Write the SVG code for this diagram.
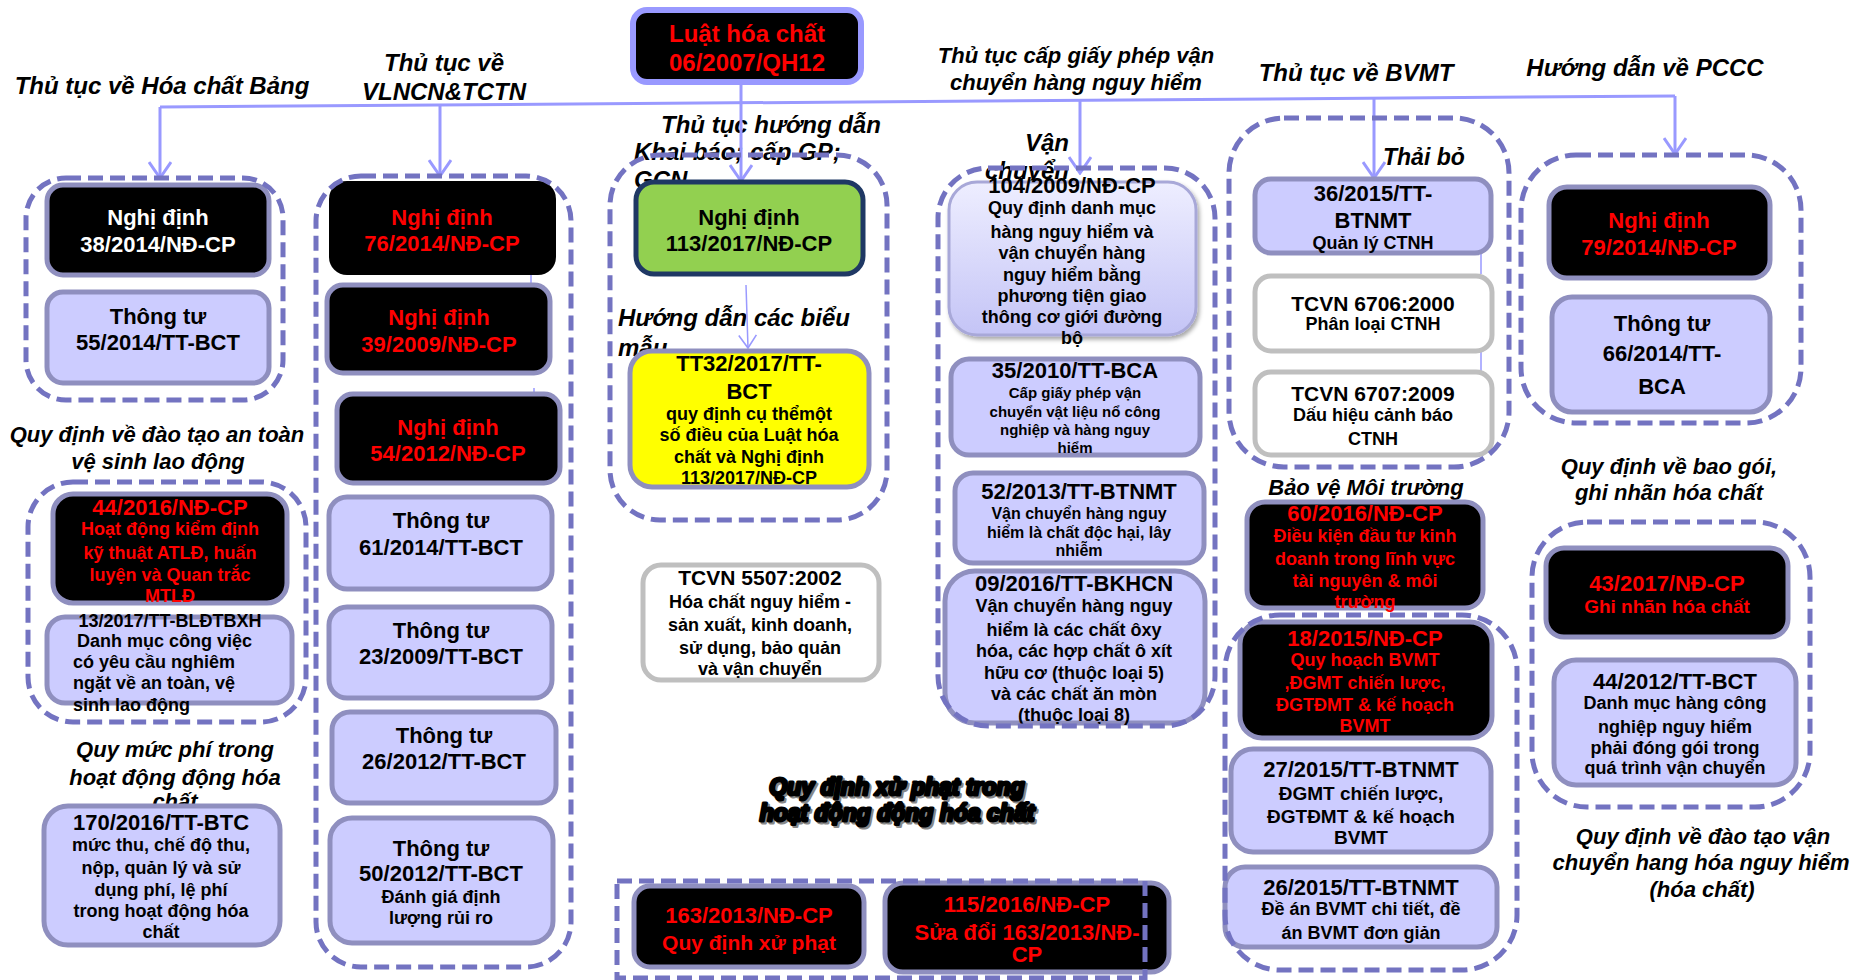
<svg xmlns="http://www.w3.org/2000/svg" width="1854" height="980" viewBox="0 0 1854 980">
<defs>
<style>
text{font-family:"Liberation Sans",Arial,sans-serif;font-weight:bold;text-anchor:middle}
.lab{font-style:italic;fill:#000}
.lab24{font-size:24px}
.lab23{font-size:23px}
.lab22{font-size:22px}
.s{text-anchor:start}
.t22{font-size:22px}
.t18{font-size:18px}
.t16{font-size:16px}
.t15{font-size:15px}
.red{fill:#FF0000}
.wt{fill:#FFFFFF}
.bk{fill:#000000}
.blk{fill:#000;stroke:#8F8FBF;stroke-width:5}
.lav{fill:#CCCCFF;stroke:#8F8FBF;stroke-width:5}
.wht{fill:#FFFFFF;stroke:#BFBFBF;stroke-width:5}
.cont{fill:none;stroke:#7373C1;stroke-width:5;stroke-dasharray:15 7}
.conn{fill:none;stroke:#9999FF;stroke-width:3}
.thin{fill:none;stroke:#9999FF;stroke-width:1.5}
.xp{font-size:23px;font-style:italic;fill:#000;stroke:#000;stroke-width:3;stroke-linejoin:round;paint-order:stroke}
.xps{font-size:23px;font-style:italic;fill:#888;stroke:#888;stroke-width:3;stroke-linejoin:round;paint-order:stroke}
</style>
<marker id="chev" viewBox="0 0 20 24" refX="18" refY="12" markerWidth="20" markerHeight="24" markerUnits="userSpaceOnUse" orient="auto">
<path d="M2,1 L18,12 L2,23" fill="none" stroke="#9999FF" stroke-width="3"/>
</marker>
<marker id="chevT" viewBox="0 0 20 24" refX="18" refY="12" markerWidth="16" markerHeight="20" markerUnits="userSpaceOnUse" orient="auto">
<path d="M2,1 L18,12 L2,23" fill="none" stroke="#9999FF" stroke-width="2"/>
</marker>
<linearGradient id="lavg" x1="0" y1="0" x2="0" y2="1">
<stop offset="0" stop-color="#EEEEFF"/>
<stop offset="1" stop-color="#C4C4F6"/>
</linearGradient>
<filter id="sh" x="-10%" y="-10%" width="125%" height="125%">
<feDropShadow dx="2" dy="3" stdDeviation="2" flood-color="#000" flood-opacity="0.35"/>
</filter>
</defs>
<rect width="1854" height="980" fill="#FFFFFF"/>

<g id="labels">
<text class="lab lab24" x="162" y="94">Thủ tục về Hóa chất Bảng</text>
<text class="lab lab24" x="444" y="71">Thủ tục về</text>
<text class="lab lab24" x="444" y="100">VLNCN&amp;TCTN</text>
<text class="lab lab22" x="1076" y="63">Thủ tục cấp giấy phép vận</text>
<text class="lab lab22" x="1076" y="90">chuyển hàng nguy hiểm</text>
<text class="lab lab24" x="1356" y="81">Thủ tục về BVMT</text>
<text class="lab lab24" x="1645" y="76">Hướng dẫn về PCCC</text>
<text class="lab lab24 s" x="661" y="133">Thủ tục hướng dẫn</text>
<text class="lab lab24 s" x="634" y="160">Khai báo; cấp GP;</text>
<text class="lab lab24 s" x="634" y="188">GCN</text>
<text class="lab lab24 s" x="1025" y="151">Vận</text>
<text class="lab lab24 s" x="985" y="179">chuyển</text>
<text class="lab lab23 s" x="1383" y="165">Thải bỏ</text>
<text class="lab lab24 s" x="618" y="326">Hướng dẫn các biểu</text>
<text class="lab lab24 s" x="618" y="356">mẫu</text>
<text class="lab lab22" x="157" y="442">Quy định về đào tạo an toàn</text>
<text class="lab lab22" x="158" y="469">vệ sinh lao động</text>
<text class="lab lab22" x="175" y="757">Quy mức phí trong</text>
<text class="lab lab22" x="175" y="785">hoạt động động hóa</text>
<text class="lab lab22" x="175" y="809">chất</text>
<text class="lab lab22" x="1366" y="495">Bảo vệ Môi trường</text>
<text class="lab lab22" x="1669" y="474">Quy định về bao gói,</text>
<text class="lab lab22" x="1669" y="500">ghi nhãn hóa chất</text>
<text class="lab lab22" x="1703" y="844">Quy định về đào tạo vận</text>
<text class="lab lab22" x="1701" y="870">chuyển hang hóa nguy hiểm</text>
<text class="lab lab22" x="1702" y="897">(hóa chất)</text>
<text class="xps" x="899" y="797">Quy định xử phạt trong</text>
<text class="xp" x="897" y="795">Quy định xử phạt trong</text>
<text class="xps" x="899" y="823">hoạt động động hóa chất</text>
<text class="xp" x="897" y="821">hoạt động động hóa chất</text>
</g>

<g id="connectors">
<polyline class="conn" points="160,107 1675,96"/>
<line class="conn" x1="160" y1="107" x2="160" y2="178" marker-end="url(#chev)"/>
<line class="conn" x1="440" y1="105" x2="440" y2="176" marker-end="url(#chev)"/>
<line class="conn" x1="741" y1="83" x2="741" y2="181" marker-end="url(#chev)"/>
<line class="conn" x1="1080" y1="100" x2="1080" y2="173" marker-end="url(#chev)"/>
<line class="conn" x1="1374" y1="98" x2="1374" y2="178" marker-end="url(#chev)"/>
<line class="conn" x1="1675" y1="96" x2="1675" y2="154" marker-end="url(#chev)"/>
<line class="thin" x1="746" y1="285" x2="748" y2="348" marker-end="url(#chevT)"/>
<line class="thin" x1="531" y1="272" x2="531" y2="284"/>
<line class="thin" x1="534" y1="388" x2="534" y2="395"/>
<line class="thin" x1="1481" y1="252" x2="1481" y2="274"/>
<line class="thin" x1="1481" y1="350" x2="1481" y2="372"/>
</g>

<g id="root">
<rect x="633" y="10" width="228" height="72" rx="14" fill="#000" stroke="#9999FF" stroke-width="6"/>
<text class="red" x="747" y="42" style="font-size:24px">Luật hóa chất</text>
<text class="red" x="747" y="71" style="font-size:24px">06/2007/QH12</text>
</g>

<g id="n38">
<rect class="blk" x="47" y="185" width="222" height="90" rx="16"/>
<text class="wt t22" x="158" y="225">Nghị định</text>
<text class="wt t22" x="158" y="252">38/2014/NĐ-CP</text>
</g>
<g id="n55">
<rect class="lav" x="47" y="292" width="222" height="91" rx="16"/>
<text class="bk t22" x="158" y="324">Thông tư</text>
<text class="bk t22" x="158" y="350">55/2014/TT-BCT</text>
</g>

<g id="n76">
<rect x="329" y="181" width="227" height="94" rx="18" fill="#000"/>
<text class="red t22" x="442" y="225">Nghị định</text>
<text class="red t22" x="442" y="251">76/2014/NĐ-CP</text>
</g>
<g id="n39">
<rect class="blk" x="327" y="285" width="223" height="88" rx="16"/>
<text class="red t22" x="439" y="325">Nghị định</text>
<text class="red t22" x="439" y="352">39/2009/NĐ-CP</text>
</g>
<g id="n54">
<rect class="blk" x="337" y="394" width="223" height="89" rx="16"/>
<text class="red t22" x="448" y="435">Nghị định</text>
<text class="red t22" x="448" y="461">54/2012/NĐ-CP</text>
</g>
<g id="n61">
<rect class="lav" x="329" y="497" width="223" height="92" rx="18"/>
<text class="bk t22" x="441" y="528">Thông tư</text>
<text class="bk t22" x="441" y="555">61/2014/TT-BCT</text>
</g>
<g id="n23">
<rect class="lav" x="329" y="607" width="223" height="91" rx="18"/>
<text class="bk t22" x="441" y="638">Thông tư</text>
<text class="bk t22" x="441" y="664">23/2009/TT-BCT</text>
</g>
<g id="n26">
<rect class="lav" x="332" y="712" width="224" height="91" rx="18"/>
<text class="bk t22" x="444" y="743">Thông tư</text>
<text class="bk t22" x="444" y="769">26/2012/TT-BCT</text>
</g>
<g id="n50">
<rect class="lav" x="330" y="818" width="223" height="125" rx="22"/>
<text class="bk t22" x="441" y="856">Thông tư</text>
<text class="bk t22" x="441" y="881">50/2012/TT-BCT</text>
<text class="bk t18" x="441" y="903">Đánh giá định</text>
<text class="bk t18" x="441" y="924">lượng rủi ro</text>
</g>

<g id="n113">
<rect x="636" y="182" width="227" height="92" rx="18" fill="#92D050" stroke="#1F3864" stroke-width="5"/>
<text class="bk t22" x="749" y="225">Nghị định</text>
<text class="bk t22" x="749" y="251">113/2017/NĐ-CP</text>
</g>
<g id="nTT32">
<rect x="630" y="351" width="239" height="136" rx="22" fill="#FFFF00" stroke="#8F8FBF" stroke-width="5"/>
<text class="bk t22" x="749" y="371">TT32/2017/TT-</text>
<text class="bk t22" x="749" y="399">BCT</text>
<text class="bk t18" x="749" y="420">quy định cụ thểmột</text>
<text class="bk t18" x="749" y="441">số điều của Luật hóa</text>
<text class="bk t18" x="749" y="463">chất và Nghị định</text>
<text class="bk t18" x="749" y="484">113/2017/NĐ-CP</text>
</g>
<g id="n5507">
<rect class="wht" x="643" y="565" width="236" height="115" rx="18"/>
<text class="bk" x="760" y="585" style="font-size:21px">TCVN 5507:2002</text>
<text class="bk t18" x="760" y="608">Hóa chất nguy hiểm -</text>
<text class="bk t18" x="760" y="631">sản xuất, kinh doanh,</text>
<text class="bk t18" x="760" y="654">sử dụng, bảo quản</text>
<text class="bk t18" x="760" y="675">và vận chuyển</text>
</g>

<g id="n104">
<rect x="949" y="182" width="247" height="153" rx="28" fill="url(#lavg)" stroke="#A8A8D8" stroke-width="3" filter="url(#sh)"/>
<text class="bk t22" x="1072" y="193">104/2009/NĐ-CP</text>
<text class="bk t18" x="1072" y="214">Quy định danh mục</text>
<text class="bk t18" x="1072" y="238">hàng nguy hiểm và</text>
<text class="bk t18" x="1072" y="259">vận chuyển hàng</text>
<text class="bk t18" x="1072" y="281">nguy hiểm bằng</text>
<text class="bk t18" x="1072" y="302">phương tiện giao</text>
<text class="bk t18" x="1072" y="323">thông cơ giới đường</text>
<text class="bk t18" x="1072" y="344">bộ</text>
</g>
<g id="n35">
<rect class="lav" x="951" y="359" width="249" height="96" rx="18"/>
<text class="bk t22" x="1075" y="378">35/2010/TT-BCA</text>
<text class="bk t15" x="1075" y="398">Cấp giấy phép vận</text>
<text class="bk t15" x="1075" y="417">chuyển vật liệu nổ công</text>
<text class="bk t15" x="1075" y="435">nghiệp và hàng nguy</text>
<text class="bk t15" x="1075" y="453">hiểm</text>
</g>
<g id="n52">
<rect class="lav" x="955" y="473" width="249" height="90" rx="18"/>
<text class="bk t22" x="1079" y="499">52/2013/TT-BTNMT</text>
<text class="bk t16" x="1079" y="519">Vận chuyển hàng nguy</text>
<text class="bk t16" x="1079" y="538">hiểm là chất độc hại, lây</text>
<text class="bk t16" x="1079" y="556">nhiễm</text>
</g>
<g id="n09">
<rect class="lav" x="945" y="571" width="260" height="152" rx="30"/>
<text class="bk t22" x="1074" y="591">09/2016/TT-BKHCN</text>
<text class="bk t18" x="1074" y="612">Vận chuyển hàng nguy</text>
<text class="bk t18" x="1074" y="636">hiểm là các chất ôxy</text>
<text class="bk t18" x="1074" y="657">hóa, các hợp chất ô xít</text>
<text class="bk t18" x="1074" y="679">hữu cơ (thuộc loại 5)</text>
<text class="bk t18" x="1074" y="700">và các chất ăn mòn</text>
<text class="bk t18" x="1074" y="721">(thuộc loại 8)</text>
</g>

<g id="n36">
<rect class="lav" x="1255" y="179" width="236" height="74" rx="16"/>
<text class="bk t22" x="1373" y="201">36/2015/TT-</text>
<text class="bk t22" x="1373" y="228">BTNMT</text>
<text class="bk t18" x="1373" y="249">Quản lý CTNH</text>
</g>
<g id="n6706">
<rect class="wht" x="1255" y="276" width="237" height="75" rx="16"/>
<text class="bk" x="1373" y="311" style="font-size:21px">TCVN 6706:2000</text>
<text class="bk t18" x="1373" y="330">Phân loại CTNH</text>
</g>
<g id="n6707">
<rect class="wht" x="1255" y="372" width="237" height="83" rx="16"/>
<text class="bk" x="1373" y="401" style="font-size:21px">TCVN 6707:2009</text>
<text class="bk t18" x="1373" y="421">Dấu hiệu cảnh báo</text>
<text class="bk t18" x="1373" y="445">CTNH</text>
</g>
<g id="n60">
<rect class="blk" x="1247" y="502" width="236" height="106" rx="18"/>
<text class="red t22" x="1365" y="521">60/2016/NĐ-CP</text>
<text class="red t18" x="1365" y="542">Điều kiện đầu tư kinh</text>
<text class="red t18" x="1365" y="565">doanh trong lĩnh vực</text>
<text class="red t18" x="1365" y="587">tài nguyên &amp; môi</text>
<text class="red t18" x="1365" y="608">trường</text>
</g>
<g id="n18">
<rect class="blk" x="1240" y="622" width="252" height="116" rx="22"/>
<text class="red t22" x="1365" y="646">18/2015/NĐ-CP</text>
<text class="red t18" x="1365" y="666">Quy hoạch BVMT</text>
<text class="red t18" x="1365" y="689">,ĐGMT chiến lược,</text>
<text class="red t18" x="1365" y="711">ĐGTĐMT &amp; kế hoạch</text>
<text class="red t18" x="1365" y="732">BVMT</text>
</g>
<g id="n27">
<rect class="lav" x="1231" y="749" width="260" height="103" rx="22"/>
<text class="bk t22" x="1361" y="777">27/2015/TT-BTNMT</text>
<text class="bk" x="1361" y="800" style="font-size:19px">ĐGMT chiến lược,</text>
<text class="bk" x="1361" y="823" style="font-size:19px">ĐGTĐMT &amp; kế hoạch</text>
<text class="bk" x="1361" y="844" style="font-size:19px">BVMT</text>
</g>
<g id="n26b">
<rect class="lav" x="1225" y="867" width="272" height="80" rx="20"/>
<text class="bk t22" x="1361" y="895">26/2015/TT-BTNMT</text>
<text class="bk t18" x="1361" y="915">Đề án BVMT chi tiết, đề</text>
<text class="bk t18" x="1361" y="939">án BVMT đơn giản</text>
</g>

<g id="n79">
<rect class="blk" x="1549" y="187" width="221" height="91" rx="18"/>
<text class="red t22" x="1659" y="228">Nghị định</text>
<text class="red t22" x="1659" y="255">79/2014/NĐ-CP</text>
</g>
<g id="n66">
<rect class="lav" x="1552" y="297" width="218" height="115" rx="20"/>
<text class="bk t22" x="1662" y="331">Thông tư</text>
<text class="bk t22" x="1662" y="361">66/2014/TT-</text>
<text class="bk t22" x="1662" y="394">BCA</text>
</g>
<g id="n43">
<rect class="blk" x="1546" y="548" width="242" height="89" rx="18"/>
<text class="red t22" x="1667" y="591">43/2017/NĐ-CP</text>
<text class="red" x="1667" y="613" style="font-size:19px">Ghi nhãn hóa chất</text>
</g>
<g id="n44b">
<rect class="lav" x="1554" y="660" width="242" height="125" rx="22"/>
<text class="bk t22" x="1675" y="689">44/2012/TT-BCT</text>
<text class="bk t18" x="1675" y="709">Danh mục hàng công</text>
<text class="bk t18" x="1675" y="733">nghiệp nguy hiểm</text>
<text class="bk t18" x="1675" y="754">phải đóng gói trong</text>
<text class="bk t18" x="1675" y="774">quá trình vận chuyển</text>
</g>

<g id="n44a">
<rect class="blk" x="53" y="494" width="234" height="109" rx="20"/>
<text class="red t22" x="170" y="515">44/2016/NĐ-CP</text>
<text class="red t18" x="170" y="535">Hoạt động kiểm định</text>
<text class="red t18" x="170" y="559">kỹ thuật ATLĐ, huấn</text>
<text class="red t18" x="170" y="581">luyện và Quan trắc</text>
<text class="red t18" x="170" y="602">MTLĐ</text>
</g>
<g id="n13">
<rect class="lav" x="47" y="617" width="245" height="86" rx="18"/>
<text class="bk t18" x="170" y="627">13/2017/TT-BLĐTBXH</text>
<text class="bk t18 s" x="77" y="647">Danh mục công việc</text>
<text class="bk t18 s" x="73" y="668">có yêu cầu nghiêm</text>
<text class="bk t18 s" x="73" y="689">ngặt về an toàn, vệ</text>
<text class="bk t18 s" x="73" y="711">sinh lao động</text>
</g>
<g id="n170">
<rect class="lav" x="44" y="806" width="236" height="139" rx="24"/>
<text class="bk t22" x="161" y="830">170/2016/TT-BTC</text>
<text class="bk t18" x="161" y="851">mức thu, chế độ thu,</text>
<text class="bk t18" x="161" y="874">nộp, quản lý và sử</text>
<text class="bk t18" x="161" y="896">dụng phí, lệ phí</text>
<text class="bk t18" x="161" y="917">trong hoạt động hóa</text>
<text class="bk t18" x="161" y="938">chất</text>
</g>

<g id="n163">
<rect class="blk" x="634" y="886" width="230" height="81" rx="16"/>
<text class="red t22" x="749" y="923">163/2013/NĐ-CP</text>
<text class="red" x="749" y="950" style="font-size:21px">Quy định xử phạt</text>
</g>
<g id="n115">
<rect class="blk" x="885" y="883" width="284" height="89" rx="18"/>
<text class="red t22" x="1027" y="912">115/2016/NĐ-CP</text>
<text class="red t22" x="1027" y="940">Sửa đổi 163/2013/NĐ-</text>
<text class="red t22" x="1027" y="962">CP</text>
</g>

<g id="containers">
<rect class="cont" x="26" y="178" width="257" height="222" rx="40"/>
<rect class="cont" x="316" y="176" width="255" height="791" rx="45"/>
<rect class="cont" x="610" y="155" width="277" height="365" rx="50"/>
<rect class="cont" x="938" y="168" width="277" height="558" rx="50"/>
<rect class="cont" x="1229" y="118" width="280" height="349" rx="55"/>
<rect class="cont" x="1225" y="615" width="292" height="355" rx="55"/>
<rect class="cont" x="1521" y="155" width="280" height="268" rx="55"/>
<rect class="cont" x="1532" y="522" width="278" height="285" rx="55"/>
<rect class="cont" x="28" y="482" width="278" height="240" rx="45"/>
<rect class="cont" x="617" y="881" width="528" height="97"/>
</g>
</svg>
